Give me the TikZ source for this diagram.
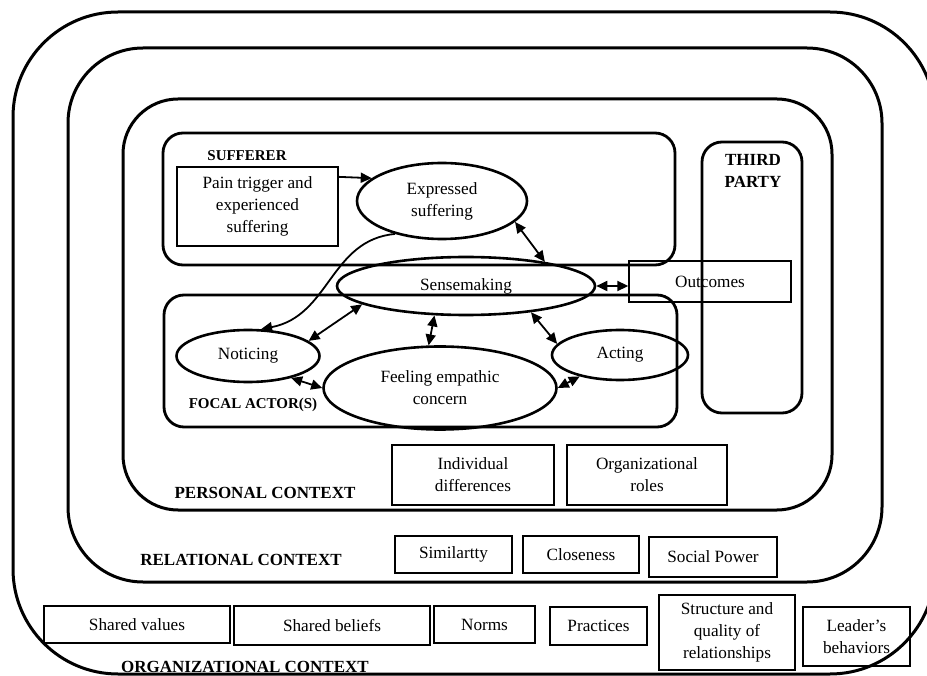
\documentclass[tikz,border=0pt]{standalone}
\usepackage{fontspec}
\setmainfont{Liberation Serif}
\usetikzlibrary{shapes.geometric,arrows.meta}

\begin{document}
\begin{tikzpicture}[x=1pt, y=-1pt, >={Triangle[length=11pt, width=10pt]},
  every node/.style={font=\fontsize{17.2}{22}\selectfont},
  ring/.style={draw, line width=3pt, inner sep=0pt},
  actor/.style={draw, line width=2.8pt, rounded corners=20pt, inner sep=0pt},
  stage/.style={ellipse, draw, line width=2.6pt, inner sep=0pt, align=center},
  factor/.style={rectangle, draw, line width=1.4pt, inner sep=0pt, align=center},
  title/.style={font=\fontsize{17}{22}\selectfont\bfseries, align=center},
  small title/.style={font=\fontsize{15}{18}\selectfont\bfseries},
  link/.style={->, line width=1.8pt},
  both/.style={<->, line width=1.8pt}]
  \clip (0,0) rectangle (927,676);

  % Context rings
  \node[ring, rounded corners=105pt, minimum width=922pt, minimum height=662pt] (org) at (474,343) {};
  \node[ring, rounded corners=75pt, minimum width=814pt, minimum height=534pt] (rel) at (475,315) {};
  \node[ring, rounded corners=55pt, minimum width=709pt, minimum height=411pt] (pers) at (477.5,304.5) {};

  % Actors
  \node[actor, minimum width=512pt, minimum height=132pt] (sufferer) at (419,199) {};
  \node[actor, minimum width=513pt, minimum height=132pt] (focal) at (420.5,361) {};
  \node[actor, minimum width=100pt, minimum height=271pt] (third) at (752,277.5) {};
  \node[small title] (sufferertitle) at (247,156) {SUFFERER};
  \node[small title] (focaltitle) at (253,405) {FOCAL ACTOR(S)};
  \node[title] (thirdtitle) at (753,171) {THIRD\\PARTY};

  % Process
  \node[factor, line width=1.8pt, minimum width=161pt, minimum height=79pt] (pain) at (257.5,206.5) {Pain trigger and\\experienced\\suffering};
  \node[stage, minimum width=170pt, minimum height=76pt] (expr) at (442,201) {Expressed\\suffering};
  \node[stage, minimum width=258pt, minimum height=58pt] (sense) at (466,286) {Sensemaking};
  \node[stage, minimum width=143pt, minimum height=52pt] (noticing) at (248,356) {Noticing};
  \node[stage, minimum width=233pt, minimum height=83pt] (feeling) at (440,388) {Feeling empathic\\concern};
  \node[stage, minimum width=136pt, minimum height=50pt] (acting) at (620,355) {Acting};
  \node[factor, minimum width=162pt, minimum height=41pt] (outcomes) at (710,281.5) {Outcomes};

  % Personal context
  \node[factor, minimum width=162pt, minimum height=60pt] (indiv) at (473,475) {Individual\\differences};
  \node[factor, minimum width=160pt, minimum height=60pt] (roles) at (647,475) {Organizational\\roles};
  \node[title] (perstitle) at (265,493) {PERSONAL CONTEXT};

  % Relational context
  \node[factor, minimum width=117pt, minimum height=37pt] (similar) at (453.5,554.5) {Similartty};
  \node[factor, minimum width=116pt, minimum height=37pt] (close) at (581,554.5) {Closeness};
  \node[factor, minimum width=128pt, minimum height=40pt] (power) at (713,557) {Social Power};
  \node[title] (reltitle) at (241,560) {RELATIONAL CONTEXT};

  % Organizational context
  \node[factor, minimum width=186pt, minimum height=37pt] (values) at (137,624.5) {Shared values};
  \node[factor, minimum width=196pt, minimum height=39pt] (beliefs) at (332,625.5) {Shared beliefs};
  \node[factor, minimum width=101pt, minimum height=37pt] (norms) at (484.5,624.5) {Norms};
  \node[factor, minimum width=97pt, minimum height=38pt] (practices) at (598.5,626) {Practices};
  \node[factor, minimum width=136pt, minimum height=75pt] (structure) at (727,632.5) {Structure and\\quality of\\relationships};
  \node[factor, minimum width=107pt, minimum height=59pt] (leader) at (856.5,636.5) {Leader's\\behaviors};
  \node[title] (orgtitle) at (245,667) {ORGANIZATIONAL CONTEXT};

  % Arrows
  \draw[link] (pain.20) -- (expr.162);
  \draw[link] (expr.215) .. controls (330,240) and (330,316) .. (noticing.64);
  \draw[both] (expr.344) -- (sense.17);
  \draw[both] (sense.190) -- (noticing.14);
  \draw[both] (sense.223) -- (feeling.105);
  \draw[both] (sense.338) -- (acting.170);
  \draw[both] (noticing.333) -- (feeling.180);
  \draw[both] (feeling.0) -- (acting.208);
  \draw[both] (sense.east) -- (sense.east -| outcomes.west);
\end{tikzpicture}
\end{document}
